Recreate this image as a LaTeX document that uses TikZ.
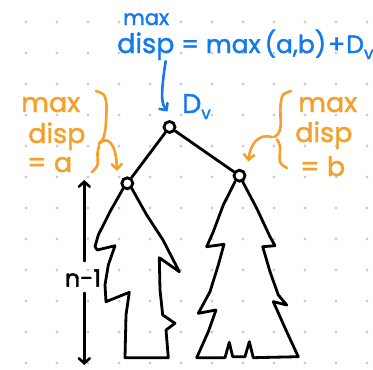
\documentclass[tikz,border=0pt]{standalone}
\usepackage{fontspec}
\setmainfont{Poppins}[FakeBold=1.6]
\usetikzlibrary{arrows.meta}

\definecolor{inkblue}{RGB}{20,122,235}
\definecolor{inkorange}{RGB}{244,160,42}
\definecolor{dotgray}{RGB}{205,205,205}

\newcommand{\subv}{\raisebox{-6pt}{\fontsize{17}{17}\selectfont v}}

\begin{document}
\begin{tikzpicture}[
    x=1pt, y=-1pt,
    % ====================
    % STYLES
    % ====================
    vertex/.style={
        circle, draw=black, line width=2.8pt, fill=white,
        minimum size=11pt, inner sep=0pt
    },
    edge/.style={
        draw=black, line width=2.8pt, line cap=round
    },
    outline/.style={
        draw=black, line width=2.8pt, line join=round, line cap=round
    },
    bluetext/.style={
        text=inkblue, inner sep=0pt, anchor=base west,
        font=\fontsize{27}{30}\selectfont
    },
    orangetext/.style={
        text=inkorange, inner sep=0pt, anchor=base west,
        font=\fontsize{27}{30}\selectfont
    },
    brace/.style={
        draw=inkorange, line width=2.6pt, line cap=round, line join=round
    },
    orangearrow/.style={
        draw=inkorange, line width=2.6pt, line cap=round,
        -{Straight Barb[length=5pt, width=10pt, line cap=round]}
    },
    bluearrow/.style={
        draw=inkblue, line width=2.6pt, line cap=round,
        -{Straight Barb[length=5pt, width=10pt, line cap=round]}
    },
    heightarrow/.style={
        draw=black, line width=2.6pt, line cap=round,
        -{Straight Barb[length=5pt, width=11pt, line cap=round]}
    }
]

\useasboundingbox (0,0) rectangle (373,370);

% ====================
% GRID OF DOTS
% ====================
\foreach \i in {0,...,11}
    \foreach \j in {0,...,11}
        \fill[dotgray] ({26+31*\i},{22+31*\j}) circle (1.6pt);

% ====================
% SUBTREES (outlines)
% ====================
% left subtree
\draw[outline] (123.3,188.3) -- (110,211.7) -- (98.3,235) -- (95,246.7)
    -- (97.3,250) -- (115,245.7) -- (108.3,265) -- (105,285) -- (106,301.7)
    -- (129.3,292.3) -- (126,315) -- (125,357.7) -- (168.3,357.7)
    -- (166,330) -- (175,323.3) -- (162.7,315) -- (160,290) -- (159.3,257.7)
    -- (179.3,271.7) -- (163,240) -- (146.7,215) -- (131.7,188.3);
% right subtree
\draw[outline] (235,181.7) -- (223.3,205) -- (213.3,231.7) -- (206.7,246.7)
    -- (224,244.3) -- (218.3,265) -- (210,291.7) -- (198.3,313.3)
    -- (216,310) -- (208.3,331.7) -- (196.7,357.7) -- (225,357.7)
    -- (229.3,342.3) -- (232.7,356.7) -- (245,356.7) -- (249.3,341.7)
    -- (253.3,357.7) -- (298.3,356.7) -- (286.7,331.7) -- (273.3,301.7)
    -- (286.7,305) -- (278.3,295) -- (270,271.7) -- (262.7,246.7)
    -- (275,245.7) -- (270,236.7) -- (256.7,208.3) -- (242.7,181.7);

% ====================
% TREE NODES
% ====================
\node[vertex] (root) at (169.5,127) {};
\node[vertex] (lchild) at (127.3,183.3) {};
\node[vertex] (rchild) at (239.5,175.7) {};

\draw[edge] (root) -- (lchild);
\draw[edge] (root) -- (rchild);

% ====================
% BLUE LABELS
% ====================
\node[bluetext, font=\fontsize{21}{24}\selectfont] (topmax) at (123,25) {max};
\node[bluetext] (topdisp) at (117,53) {disp};
\node[bluetext, font=\fontsize{25}{28}\selectfont] (formula) at (181,53)
    {= max\,(a,b)\kern2pt+\kern1pt D\subv};
\node[bluetext] (rootlabel) at (182,113) {D\subv};

\coordinate (rootarrow) at (167.5,111.5);
\draw[bluearrow] ([xshift=-9pt, yshift=-1pt]topdisp.south east)
    .. controls (160,98) and (162,104) .. (rootarrow);

% ====================
% ORANGE LABELS (left)
% ====================
\node[orangetext] (lmax) at (21,112) {max};
\node[orangetext] (ldisp) at (28,143) {disp};
\node[orangetext] (leq) at (27,172) {= a};

\draw[brace] plot[smooth] coordinates {(96,91) (104,95) (106.5,106) (105.5,128) (103,139) (99,143)};
\draw[brace] plot[smooth] coordinates {(99,146) (97.5,153) (97.5,165) (92,172)};
\coordinate (lbmid) at (99,144);
\coordinate (ltip) at (117,171);
\draw[orangearrow] (lbmid) .. controls (106,136) and (116,140) .. (ltip);

% ====================
% ORANGE LABELS (right)
% ====================
\node[orangetext] (rmax) at (298,112) {max};
\node[orangetext] (rdisp) at (295,142) {disp};
\node[orangetext] (req) at (300,176) {= b};

\draw[brace] plot[smooth] coordinates {(291,91) (283,95) (280.5,106) (280.5,127) (277.5,134.5) (274,137)};
\draw[brace] plot[smooth] coordinates {(277,139.5) (280,146) (280,162) (287,168)};
\coordinate (rbmid) at (272,137);
\coordinate (rtip) at (248.5,161.5);
\draw[orangearrow] (rbmid) .. controls (258,133) and (250,145) .. (rtip);

% ====================
% HEIGHT OF SUBTREE
% ====================
\node[font=\fontsize{24}{26}\selectfont, inner sep=0pt] (nlabel) at (83,278) {n-1};
\coordinate (ntop) at (84.3,180);
\coordinate (nbot) at (84.3,365);
\draw[heightarrow] ([yshift=8pt]nlabel.north -| ntop) -- (ntop);
\draw[heightarrow] ([yshift=-6pt]nlabel.south -| nbot) -- (nbot);

\end{tikzpicture}
\end{document}
